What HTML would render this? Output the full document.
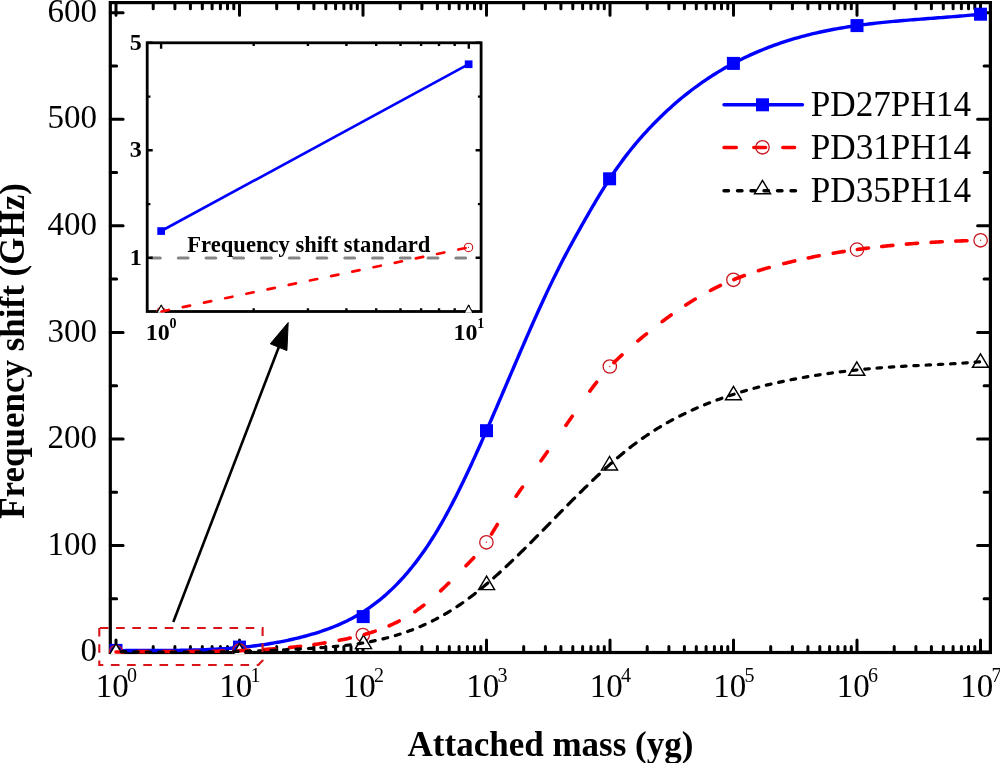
<!DOCTYPE html>
<html><head><meta charset="utf-8"><title>Frequency shift vs attached mass</title><style>
html,body{margin:0;padding:0;background:#fff;}
body{width:1000px;height:763px;overflow:hidden;}
svg{display:block;will-change:transform;}
text{font-family:"Liberation Serif",serif;fill:#000;}
.b{font-weight:bold;}
</style></head><body>
<svg width="1000" height="763" viewBox="0 0 1000 763">
<defs>
<clipPath id="mc"><rect x="108.7" y="1.0" width="883.3" height="653.1"/></clipPath>
<clipPath id="ic"><rect x="145.8" y="41.4" width="336.7" height="271.5"/></clipPath>
</defs>
<rect width="1000" height="763" fill="#fff"/>

<path d="M116.0,652.5 V639.9 M116.0,2.6 V15.2 M153.2,652.5 V646.4 M153.2,2.6 V8.7 M174.9,652.5 V646.4 M174.9,2.6 V8.7 M190.4,652.5 V646.4 M190.4,2.6 V8.7 M202.3,652.5 V646.4 M202.3,2.6 V8.7 M212.1,652.5 V646.4 M212.1,2.6 V8.7 M220.4,652.5 V646.4 M220.4,2.6 V8.7 M227.5,652.5 V646.4 M227.5,2.6 V8.7 M233.8,652.5 V646.4 M233.8,2.6 V8.7 M239.5,652.5 V639.9 M239.5,2.6 V15.2 M276.7,652.5 V646.4 M276.7,2.6 V8.7 M298.4,652.5 V646.4 M298.4,2.6 V8.7 M313.9,652.5 V646.4 M313.9,2.6 V8.7 M325.8,652.5 V646.4 M325.8,2.6 V8.7 M335.6,652.5 V646.4 M335.6,2.6 V8.7 M343.9,652.5 V646.4 M343.9,2.6 V8.7 M351.0,652.5 V646.4 M351.0,2.6 V8.7 M357.3,652.5 V646.4 M357.3,2.6 V8.7 M363.0,652.5 V639.9 M363.0,2.6 V15.2 M400.2,652.5 V646.4 M400.2,2.6 V8.7 M421.9,652.5 V646.4 M421.9,2.6 V8.7 M437.4,652.5 V646.4 M437.4,2.6 V8.7 M449.3,652.5 V646.4 M449.3,2.6 V8.7 M459.1,652.5 V646.4 M459.1,2.6 V8.7 M467.4,652.5 V646.4 M467.4,2.6 V8.7 M474.5,652.5 V646.4 M474.5,2.6 V8.7 M480.8,652.5 V646.4 M480.8,2.6 V8.7 M486.5,652.5 V639.9 M486.5,2.6 V15.2 M523.7,652.5 V646.4 M523.7,2.6 V8.7 M545.4,652.5 V646.4 M545.4,2.6 V8.7 M560.9,652.5 V646.4 M560.9,2.6 V8.7 M572.8,652.5 V646.4 M572.8,2.6 V8.7 M582.6,652.5 V646.4 M582.6,2.6 V8.7 M590.9,652.5 V646.4 M590.9,2.6 V8.7 M598.0,652.5 V646.4 M598.0,2.6 V8.7 M604.3,652.5 V646.4 M604.3,2.6 V8.7 M610.0,652.5 V639.9 M610.0,2.6 V15.2 M647.2,652.5 V646.4 M647.2,2.6 V8.7 M668.9,652.5 V646.4 M668.9,2.6 V8.7 M684.4,652.5 V646.4 M684.4,2.6 V8.7 M696.3,652.5 V646.4 M696.3,2.6 V8.7 M706.1,652.5 V646.4 M706.1,2.6 V8.7 M714.4,652.5 V646.4 M714.4,2.6 V8.7 M721.5,652.5 V646.4 M721.5,2.6 V8.7 M727.8,652.5 V646.4 M727.8,2.6 V8.7 M733.5,652.5 V639.9 M733.5,2.6 V15.2 M770.7,652.5 V646.4 M770.7,2.6 V8.7 M792.4,652.5 V646.4 M792.4,2.6 V8.7 M807.9,652.5 V646.4 M807.9,2.6 V8.7 M819.8,652.5 V646.4 M819.8,2.6 V8.7 M829.6,652.5 V646.4 M829.6,2.6 V8.7 M837.9,652.5 V646.4 M837.9,2.6 V8.7 M845.0,652.5 V646.4 M845.0,2.6 V8.7 M851.3,652.5 V646.4 M851.3,2.6 V8.7 M857.0,652.5 V639.9 M857.0,2.6 V15.2 M894.2,652.5 V646.4 M894.2,2.6 V8.7 M915.9,652.5 V646.4 M915.9,2.6 V8.7 M931.4,652.5 V646.4 M931.4,2.6 V8.7 M943.3,652.5 V646.4 M943.3,2.6 V8.7 M953.1,652.5 V646.4 M953.1,2.6 V8.7 M961.4,652.5 V646.4 M961.4,2.6 V8.7 M968.5,652.5 V646.4 M968.5,2.6 V8.7 M974.8,652.5 V646.4 M974.8,2.6 V8.7 M980.5,652.5 V639.9 M980.5,2.6 V15.2 M110.3,652.1 H123.1 M990.4,652.1 H977.6 M110.3,598.8 H116.6 M990.4,598.8 H984.1 M110.3,545.5 H123.1 M990.4,545.5 H977.6 M110.3,492.2 H116.6 M990.4,492.2 H984.1 M110.3,439.0 H123.1 M990.4,439.0 H977.6 M110.3,385.7 H116.6 M990.4,385.7 H984.1 M110.3,332.4 H123.1 M990.4,332.4 H977.6 M110.3,279.1 H116.6 M990.4,279.1 H984.1 M110.3,225.8 H123.1 M990.4,225.8 H977.6 M110.3,172.5 H116.6 M990.4,172.5 H984.1 M110.3,119.2 H123.1 M990.4,119.2 H977.6 M110.3,66.0 H116.6 M990.4,66.0 H984.1 M110.3,12.7 H123.1 M990.4,12.7 H977.6" stroke="#000" stroke-width="3" fill="none" stroke-linecap="round"/>
<rect x="110.3" y="2.6" width="880.1" height="649.9" fill="none" stroke="#000" stroke-width="3.2"/>
<g clip-path="url(#mc)">
<rect x="109.5" y="643.9" width="13" height="13" fill="#00f"/>
<rect x="233.0" y="640.6" width="13" height="13" fill="#00f"/>
<rect x="356.7" y="610.1" width="13" height="13" fill="#00f"/>
<rect x="480.0" y="424.2" width="13" height="13" fill="#00f"/>
<rect x="603.1" y="172.3" width="13" height="13" fill="#00f"/>
<rect x="726.9" y="56.9" width="13" height="13" fill="#00f"/>
<rect x="850.5" y="19.1" width="13" height="13" fill="#00f"/>
<rect x="974.0" y="7.7" width="13" height="13" fill="#00f"/>
<path d="M116.00,650.66 L118.50,650.64 L121.00,650.61 L123.49,650.59 L125.99,650.57 L128.49,650.56 L130.99,650.54 L133.49,650.53 L135.98,650.52 L138.48,650.52 L140.98,650.51 L143.48,650.51 L145.98,650.50 L148.47,650.50 L150.97,650.49 L153.47,650.49 L155.97,650.48 L158.47,650.47 L160.97,650.46 L163.46,650.45 L165.96,650.44 L168.46,650.42 L170.96,650.40 L173.46,650.38 L175.95,650.36 L178.45,650.33 L180.95,650.29 L183.45,650.25 L185.94,650.21 L188.44,650.16 L190.94,650.11 L193.44,650.05 L195.93,649.98 L198.43,649.91 L200.93,649.83 L203.43,649.75 L205.92,649.65 L208.42,649.55 L210.91,649.44 L213.41,649.32 L215.90,649.20 L218.40,649.06 L220.89,648.92 L223.38,648.76 L225.88,648.60 L228.37,648.42 L230.86,648.23 L233.35,648.04 L235.84,647.83 L238.33,647.61 L240.82,647.37 L243.30,647.13 L245.79,646.87 L248.27,646.60 L250.75,646.32 L253.23,646.02 L255.71,645.71 L258.19,645.39 L260.66,645.05 L263.14,644.70 L265.61,644.33 L268.08,643.95 L270.54,643.55 L273.01,643.13 L275.47,642.70 L277.92,642.26 L280.38,641.80 L282.83,641.32 L285.28,640.82 L287.72,640.31 L290.17,639.78 L292.60,639.23 L295.04,638.67 L297.47,638.09 L299.89,637.49 L302.31,636.87 L304.73,636.24 L307.14,635.58 L309.55,634.91 L311.95,634.22 L314.34,633.51 L316.73,632.78 L319.11,632.02 L321.49,631.25 L323.85,630.45 L326.21,629.62 L328.56,628.77 L330.90,627.89 L333.22,626.98 L335.54,626.04 L337.84,625.08 L340.13,624.08 L342.41,623.06 L344.67,622.00 L346.92,620.91 L349.16,619.79 L351.37,618.64 L353.57,617.46 L355.76,616.24 L357.92,615.00 L360.07,613.72 L362.20,612.41 L364.31,611.08 L366.40,609.71 L368.47,608.31 L370.52,606.88 L372.54,605.42 L374.55,603.94 L376.54,602.42 L378.50,600.88 L380.45,599.31 L382.37,597.72 L384.27,596.10 L386.15,594.45 L388.01,592.78 L389.85,591.09 L391.67,589.38 L393.46,587.64 L395.24,585.88 L396.99,584.10 L398.72,582.30 L400.44,580.48 L402.13,578.65 L403.80,576.79 L405.45,574.92 L407.09,573.03 L408.70,571.12 L410.30,569.20 L411.87,567.26 L413.43,565.31 L414.97,563.34 L416.49,561.36 L418.00,559.37 L419.49,557.36 L420.96,555.34 L422.41,553.31 L423.85,551.27 L425.27,549.21 L426.68,547.15 L428.07,545.07 L429.44,542.99 L430.80,540.89 L432.15,538.79 L433.48,536.67 L434.80,534.55 L436.10,532.42 L437.39,530.28 L438.67,528.13 L439.93,525.98 L441.19,523.82 L442.43,521.65 L443.65,519.47 L444.87,517.29 L446.07,515.10 L447.27,512.91 L448.46,510.71 L449.63,508.51 L450.80,506.30 L451.96,504.09 L453.11,501.87 L454.25,499.65 L455.38,497.42 L456.51,495.19 L457.63,492.96 L458.74,490.72 L459.85,488.48 L460.95,486.24 L462.04,483.99 L463.13,481.74 L464.21,479.49 L465.29,477.24 L466.36,474.98 L467.43,472.72 L468.49,470.46 L469.55,468.20 L470.60,465.93 L471.65,463.67 L472.70,461.40 L473.74,459.13 L474.78,456.85 L475.81,454.58 L476.84,452.30 L477.87,450.03 L478.89,447.75 L479.91,445.47 L480.93,443.19 L481.94,440.90 L482.95,438.62 L483.96,436.33 L484.97,434.05 L485.98,431.76 L486.98,429.47 L487.98,427.18 L488.98,424.89 L489.97,422.60 L490.97,420.31 L491.96,418.02 L492.95,415.73 L493.94,413.43 L494.93,411.14 L495.92,408.85 L496.91,406.55 L497.89,404.26 L498.88,401.96 L499.86,399.66 L500.85,397.37 L501.83,395.07 L502.81,392.77 L503.79,390.48 L504.77,388.18 L505.76,385.88 L506.74,383.58 L507.72,381.29 L508.70,378.99 L509.68,376.69 L510.66,374.40 L511.64,372.10 L512.63,369.80 L513.61,367.50 L514.59,365.21 L515.58,362.91 L516.56,360.62 L517.55,358.32 L518.53,356.03 L519.52,353.73 L520.51,351.44 L521.50,349.14 L522.49,346.85 L523.48,344.56 L524.48,342.27 L525.48,339.98 L526.47,337.69 L527.47,335.40 L528.48,333.11 L529.48,330.82 L530.49,328.54 L531.50,326.25 L532.51,323.97 L533.52,321.68 L534.54,319.40 L535.56,317.12 L536.58,314.84 L537.61,312.56 L538.64,310.29 L539.67,308.01 L540.71,305.74 L541.75,303.47 L542.79,301.20 L543.84,298.93 L544.89,296.67 L545.95,294.40 L547.01,292.14 L548.08,289.88 L549.15,287.63 L550.23,285.37 L551.31,283.12 L552.40,280.87 L553.49,278.63 L554.59,276.38 L555.69,274.14 L556.81,271.91 L557.92,269.67 L559.05,267.44 L560.18,265.22 L561.32,262.99 L562.47,260.78 L563.63,258.56 L564.79,256.35 L565.96,254.14 L567.13,251.94 L568.32,249.74 L569.50,247.54 L570.70,245.34 L571.89,243.15 L573.10,240.96 L574.30,238.77 L575.51,236.59 L576.73,234.41 L577.95,232.23 L579.17,230.05 L580.39,227.87 L581.62,225.69 L582.85,223.52 L584.08,221.34 L585.31,219.17 L586.55,217.00 L587.79,214.83 L589.04,212.67 L590.29,210.51 L591.55,208.35 L592.81,206.19 L594.07,204.04 L595.34,201.89 L596.62,199.74 L597.91,197.60 L599.20,195.46 L600.50,193.33 L601.81,191.20 L603.12,189.08 L604.45,186.96 L605.78,184.85 L607.13,182.74 L608.48,180.64 L609.85,178.55 L611.23,176.47 L612.62,174.39 L614.03,172.33 L615.44,170.27 L616.87,168.22 L618.31,166.18 L619.77,164.15 L621.24,162.13 L622.72,160.12 L624.22,158.12 L625.73,156.13 L627.26,154.15 L628.79,152.19 L630.35,150.23 L631.91,148.28 L633.49,146.35 L635.09,144.42 L636.69,142.51 L638.31,140.61 L639.95,138.72 L641.60,136.84 L643.26,134.98 L644.93,133.12 L646.62,131.28 L648.31,129.45 L650.03,127.63 L651.75,125.82 L653.48,124.02 L655.23,122.23 L656.99,120.46 L658.76,118.70 L660.54,116.95 L662.33,115.21 L664.14,113.48 L665.96,111.77 L667.79,110.07 L669.63,108.38 L671.49,106.71 L673.35,105.05 L675.23,103.40 L677.13,101.77 L679.03,100.16 L680.95,98.55 L682.87,96.96 L684.81,95.39 L686.77,93.83 L688.73,92.29 L690.71,90.76 L692.70,89.25 L694.70,87.76 L696.71,86.28 L698.74,84.82 L700.77,83.37 L702.82,81.94 L704.88,80.53 L706.95,79.13 L709.04,77.75 L711.13,76.39 L713.24,75.05 L715.35,73.72 L717.48,72.41 L719.62,71.12 L721.77,69.84 L723.93,68.59 L726.10,67.35 L728.28,66.13 L730.46,64.92 L732.66,63.74 L734.87,62.57 L737.09,61.42 L739.32,60.29 L741.55,59.17 L743.80,58.08 L746.05,57.00 L748.31,55.94 L750.58,54.89 L752.86,53.87 L755.15,52.86 L757.44,51.87 L759.74,50.90 L762.05,49.95 L764.37,49.01 L766.69,48.09 L769.02,47.20 L771.36,46.31 L773.70,45.45 L776.05,44.60 L778.41,43.78 L780.77,42.96 L783.14,42.17 L785.52,41.40 L787.90,40.64 L790.28,39.90 L792.67,39.17 L795.07,38.46 L797.47,37.77 L799.87,37.10 L802.28,36.44 L804.70,35.80 L807.12,35.17 L809.54,34.56 L811.97,33.97 L814.40,33.39 L816.83,32.83 L819.27,32.28 L821.71,31.75 L824.15,31.23 L826.60,30.72 L829.05,30.23 L831.50,29.75 L833.95,29.29 L836.41,28.84 L838.87,28.40 L841.33,27.98 L843.80,27.56 L846.26,27.16 L848.73,26.77 L851.20,26.40 L853.67,26.03 L856.14,25.68 L858.62,25.33 L861.09,25.00 L863.57,24.67 L866.05,24.35 L868.53,24.05 L871.01,23.75 L873.49,23.46 L875.97,23.18 L878.45,22.91 L880.94,22.64 L883.42,22.38 L885.91,22.13 L888.39,21.89 L890.88,21.65 L893.37,21.42 L895.85,21.19 L898.34,20.97 L900.83,20.75 L903.32,20.54 L905.81,20.33 L908.30,20.12 L910.79,19.92 L913.28,19.72 L915.77,19.53 L918.26,19.33 L920.75,19.14 L923.24,18.95 L925.73,18.76 L928.22,18.57 L930.71,18.39 L933.21,18.20 L935.70,18.01 L938.19,17.82 L940.68,17.63 L943.17,17.44 L945.66,17.25 L948.15,17.06 L950.64,16.86 L953.13,16.66 L955.62,16.46 L958.11,16.26 L960.60,16.05 L963.09,15.84 L965.58,15.62 L968.07,15.40 L970.55,15.17 L973.04,14.94 L975.53,14.70 L978.01,14.45 L980.50,14.20" fill="none" stroke="#00f" stroke-width="3.4" stroke-linejoin="round"/>
<circle cx="116.0" cy="652.0" r="6.7" fill="none" stroke="#c8161f" stroke-width="1.3"/><circle cx="116.0" cy="652.0" r="0.7" fill="#c03030"/>
<circle cx="239.5" cy="650.7" r="6.7" fill="none" stroke="#c8161f" stroke-width="1.3"/><circle cx="239.5" cy="650.7" r="0.7" fill="#c03030"/>
<circle cx="362.8" cy="635.0" r="6.7" fill="none" stroke="#c8161f" stroke-width="1.3"/><circle cx="362.8" cy="635.0" r="0.7" fill="#c03030"/>
<circle cx="486.4" cy="542.3" r="6.7" fill="none" stroke="#c8161f" stroke-width="1.3"/><circle cx="486.4" cy="542.3" r="0.7" fill="#c03030"/>
<circle cx="609.8" cy="366.5" r="6.7" fill="none" stroke="#c8161f" stroke-width="1.3"/><circle cx="609.8" cy="366.5" r="0.7" fill="#c03030"/>
<circle cx="733.4" cy="279.8" r="6.7" fill="none" stroke="#c8161f" stroke-width="1.3"/><circle cx="733.4" cy="279.8" r="0.7" fill="#c03030"/>
<circle cx="857.0" cy="249.6" r="6.7" fill="none" stroke="#c8161f" stroke-width="1.3"/><circle cx="857.0" cy="249.6" r="0.7" fill="#c03030"/>
<circle cx="980.6" cy="240.3" r="6.7" fill="none" stroke="#c8161f" stroke-width="1.3"/><circle cx="980.6" cy="240.3" r="0.7" fill="#c03030"/>
<polygon points="116.00,643.70 108.00,657.10 124.00,657.10" fill="#fff" stroke="#000" stroke-width="1.45" stroke-linejoin="miter"/>
<polygon points="239.50,643.70 231.50,657.10 247.50,657.10" fill="#fff" stroke="#000" stroke-width="1.45" stroke-linejoin="miter"/>
<polygon points="363.50,635.20 355.50,648.60 371.50,648.60" fill="#fff" stroke="#000" stroke-width="1.45" stroke-linejoin="miter"/>
<polygon points="486.60,576.20 478.60,589.60 494.60,589.60" fill="#fff" stroke="#000" stroke-width="1.45" stroke-linejoin="miter"/>
<polygon points="609.50,456.50 601.50,469.90 617.50,469.90" fill="#fff" stroke="#000" stroke-width="1.45" stroke-linejoin="miter"/>
<polygon points="733.50,386.40 725.50,399.80 741.50,399.80" fill="#fff" stroke="#000" stroke-width="1.45" stroke-linejoin="miter"/>
<polygon points="856.80,361.90 848.80,375.30 864.80,375.30" fill="#fff" stroke="#000" stroke-width="1.45" stroke-linejoin="miter"/>
<polygon points="980.50,353.90 972.50,367.30 988.50,367.30" fill="#fff" stroke="#000" stroke-width="1.45" stroke-linejoin="miter"/>
<path d="M116.00,652.00 L117.48,651.97 L118.96,651.94 L120.44,651.91 L121.92,651.88 L123.40,651.85 M137.40,651.66 L138.80,651.65 L140.20,651.63 L141.60,651.62 L143.00,651.61 L144.40,651.60 L145.80,651.59 L147.20,651.58 L148.60,651.57 M162.90,651.52 L164.30,651.52 L165.70,651.51 L167.10,651.51 L168.50,651.51 L169.90,651.50 L171.30,651.50 L172.70,651.50 L174.10,651.50 M187.40,651.46 L188.80,651.46 L190.20,651.45 L191.60,651.44 L193.00,651.44 L194.40,651.43 L195.80,651.42 L197.20,651.41 L198.60,651.40 M212.80,651.26 L214.20,651.24 L215.60,651.22 L217.00,651.20 L218.40,651.18 L219.80,651.15 L221.20,651.12 L222.60,651.10 L224.00,651.07 M238.20,650.69 L239.60,650.65 L241.00,650.60 L242.40,650.55 L243.80,650.50 L245.20,650.44 L246.60,650.39 L248.00,650.33 L249.40,650.27 M263.71,649.52 L265.11,649.44 L266.51,649.35 L267.90,649.26 L269.30,649.17 L270.70,649.07 L272.09,648.97 L273.49,648.87 L274.89,648.76 M289.43,647.51 L290.82,647.37 L292.22,647.23 L293.61,647.08 L295.00,646.94 L296.39,646.79 L297.78,646.63 L299.17,646.47 L300.57,646.31 M313.96,644.58 L315.35,644.38 L316.73,644.18 L318.12,643.98 L319.50,643.77 L320.88,643.55 L322.27,643.34 L323.65,643.11 L325.03,642.89 M339.21,640.34 L340.58,640.06 L341.96,639.79 L343.33,639.51 L344.70,639.22 L346.07,638.94 L347.44,638.64 L348.81,638.35 L350.17,638.04 M364.53,634.46 L365.87,634.07 L367.22,633.68 L368.56,633.28 L369.90,632.88 L371.24,632.46 L372.57,632.04 L373.90,631.60 L375.23,631.16 M389.10,625.81 L390.39,625.25 L391.66,624.68 L392.93,624.09 L394.20,623.49 L395.46,622.88 L396.72,622.27 L397.97,621.64 L399.21,621.00 M414.82,611.70 L415.97,610.91 L417.12,610.11 L418.26,609.30 L419.40,608.48 L420.53,607.65 L421.65,606.82 L422.77,605.97 L423.87,605.12 M440.61,590.81 L441.64,589.86 L442.66,588.90 L443.68,587.94 L444.70,586.98 L445.71,586.02 L446.73,585.05 L447.73,584.08 L448.74,583.10 M466.00,565.76 L466.97,564.76 L467.95,563.76 L468.93,562.75 L469.90,561.75 L470.87,560.74 L471.85,559.74 L472.82,558.73 L473.78,557.71 M491.51,534.06 L492.23,532.86 L492.95,531.66 L493.68,530.46 L494.40,529.27 L495.13,528.07 L495.86,526.88 L496.60,525.69 L497.33,524.50 M516.10,496.22 L516.90,495.07 L517.70,493.92 L518.50,492.77 L519.30,491.62 L520.10,490.47 L520.90,489.33 L521.71,488.18 L522.51,487.03 M540.97,460.83 L541.78,459.69 L542.58,458.54 L543.39,457.40 L544.20,456.26 L545.01,455.11 L545.82,453.97 L546.62,452.83 L547.43,451.68 M565.91,425.35 L566.71,424.20 L567.51,423.05 L568.30,421.90 L569.10,420.75 L569.90,419.60 L570.69,418.45 L571.49,417.30 L572.28,416.15 M589.86,391.17 L590.69,390.04 L591.52,388.91 L592.36,387.79 L593.20,386.67 L594.04,385.56 L594.89,384.44 L595.75,383.33 L596.60,382.23 M613.85,362.61 L614.86,361.63 L615.87,360.66 L616.88,359.70 L617.90,358.74 L618.92,357.78 L619.95,356.83 L620.97,355.88 L622.00,354.93 M637.90,340.95 L638.97,340.05 L640.05,339.15 L641.12,338.25 L642.20,337.36 L643.28,336.46 L644.36,335.57 L645.44,334.69 L646.53,333.80 M662.11,321.60 L663.23,320.76 L664.35,319.93 L665.47,319.09 L666.60,318.26 L667.73,317.44 L668.86,316.61 L670.00,315.79 L671.14,314.98 M685.78,305.00 L686.95,304.24 L688.13,303.49 L689.31,302.74 L690.50,301.99 L691.69,301.25 L692.88,300.52 L694.07,299.78 L695.27,299.06 M710.42,290.50 L711.66,289.85 L712.90,289.21 L714.15,288.57 L715.40,287.94 L716.65,287.32 L717.91,286.70 L719.17,286.10 L720.43,285.49 M733.90,279.55 L735.20,279.02 L736.49,278.50 L737.80,277.99 L739.10,277.48 L740.41,276.97 L741.72,276.48 L743.03,275.99 L744.34,275.50 M758.45,270.69 L759.78,270.27 L761.12,269.86 L762.46,269.45 L763.80,269.05 L765.14,268.65 L766.48,268.25 L767.83,267.86 L769.18,267.47 M783.86,263.56 L785.22,263.22 L786.58,262.89 L787.94,262.55 L789.30,262.22 L790.66,261.90 L792.02,261.58 L793.39,261.26 L794.75,260.94 M808.21,257.98 L809.58,257.69 L810.96,257.41 L812.33,257.13 L813.70,256.85 L815.07,256.58 L816.45,256.31 L817.82,256.04 L819.20,255.78 M833.18,253.24 L834.56,253.00 L835.94,252.77 L837.32,252.54 L838.70,252.31 L840.08,252.09 L841.46,251.87 L842.85,251.65 L844.23,251.43 M857.35,249.50 L858.74,249.31 L860.12,249.12 L861.51,248.94 L862.90,248.75 L864.29,248.57 L865.68,248.39 L867.07,248.22 L868.45,248.04 M881.73,246.49 L883.12,246.34 L884.52,246.19 L885.91,246.05 L887.30,245.90 L888.69,245.76 L890.09,245.62 L891.48,245.48 L892.87,245.35 M906.42,244.14 L907.81,244.02 L909.21,243.91 L910.60,243.80 L912.00,243.69 L913.40,243.58 L914.79,243.48 L916.19,243.37 L917.58,243.27 M931.11,242.37 L932.51,242.29 L933.90,242.21 L935.30,242.13 L936.70,242.05 L938.10,241.97 L939.50,241.90 L940.89,241.82 L942.29,241.75 M955.80,241.12 L957.20,241.06 L958.60,241.00 L960.00,240.95 L961.40,240.89 L962.80,240.84 L964.20,240.79 L965.60,240.74 L967.00,240.69" fill="none" stroke="#f00" stroke-width="3.6" stroke-linecap="round" stroke-linejoin="round"/>
<path d="M121.20,651.61 L122.69,651.63 L124.18,651.66 L125.67,651.69 M133.70,651.81 L135.19,651.84 L136.68,651.86 L138.18,651.88 M146.21,651.98 L147.70,651.99 L149.19,652.01 L150.68,652.02 M158.71,652.09 L160.20,652.10 L161.69,652.11 L163.18,652.12 M171.21,652.15 L172.70,652.15 L174.19,652.16 L175.68,652.16 M183.70,652.16 L185.19,652.15 L186.68,652.15 L188.17,652.15 M196.19,652.10 L197.68,652.09 L199.17,652.08 L200.66,652.07 M208.67,651.99 L210.16,651.97 L211.65,651.95 L213.14,651.93 M221.15,651.81 L222.64,651.79 L224.13,651.76 L225.62,651.73 M233.63,651.56 L235.12,651.53 L236.61,651.49 L238.10,651.46 M246.10,651.25 L247.59,651.20 L249.08,651.16 L250.58,651.11 M258.57,650.85 L260.06,650.80 L261.55,650.75 L263.05,650.69 M271.03,650.38 L272.53,650.32 L274.02,650.26 L275.51,650.20 M283.49,649.83 L284.99,649.76 L286.48,649.69 L287.97,649.61 M295.95,649.20 L297.44,649.12 L298.94,649.03 L300.43,648.95 M308.40,648.48 L309.90,648.38 L311.39,648.29 L312.89,648.19 M320.85,647.65 L321.97,647.57 L323.10,647.49 L324.22,647.41 L325.34,647.32 M333.29,646.65 L334.42,646.55 L335.54,646.45 L336.67,646.34 L337.80,646.23 M345.72,645.38 L346.86,645.24 L347.99,645.11 L349.12,644.97 L350.25,644.82 M358.14,643.73 L359.29,643.55 L360.43,643.37 L361.57,643.19 L362.71,643.00 M370.55,641.60 L371.71,641.37 L372.87,641.14 L374.02,640.91 L375.18,640.66 M382.94,638.91 L384.12,638.62 L385.30,638.32 L386.48,638.02 L387.66,637.71 M395.32,635.57 L396.53,635.20 L397.74,634.83 L398.94,634.46 L400.14,634.07 M407.68,631.51 L408.92,631.06 L410.17,630.60 L411.41,630.13 L412.64,629.66 M420.01,626.67 L421.30,626.11 L422.59,625.55 L423.88,624.98 L425.16,624.40 M432.33,620.97 L433.40,620.43 L434.48,619.88 L435.55,619.33 L436.62,618.77 L437.68,618.20 M444.63,614.34 L445.75,613.69 L446.87,613.02 L447.99,612.36 L449.11,611.68 L450.22,611.00 M456.91,606.72 L458.09,605.93 L459.26,605.14 L460.43,604.34 L461.60,603.53 L462.76,602.72 M469.18,598.05 L470.20,597.27 L471.22,596.50 L472.24,595.72 L473.26,594.93 L474.27,594.15 L475.28,593.35 M481.46,588.37 L482.52,587.50 L483.58,586.62 L484.63,585.73 L485.69,584.84 L486.73,583.95 L487.78,583.06 M493.76,577.84 L494.85,576.87 L495.94,575.90 L497.02,574.93 L498.10,573.95 L499.18,572.97 L500.26,571.99 M506.07,566.60 L507.03,565.71 L507.98,564.81 L508.93,563.91 L509.88,563.01 L510.82,562.11 L511.77,561.21 L512.71,560.30 M518.40,554.79 L519.37,553.85 L520.33,552.90 L521.30,551.96 L522.26,551.01 L523.22,550.06 L524.18,549.11 L525.14,548.16 M530.75,542.57 L531.72,541.59 L532.69,540.61 L533.67,539.63 L534.64,538.65 L535.61,537.67 L536.58,536.69 L537.55,535.71 M543.10,530.07 L544.08,529.07 L545.06,528.08 L546.03,527.08 L547.01,526.09 L547.99,525.09 L548.96,524.09 L549.94,523.10 M555.47,517.45 L556.45,516.45 L557.42,515.46 L558.40,514.46 L559.38,513.47 L560.35,512.47 L561.33,511.48 L562.31,510.49 M567.86,504.86 L568.82,503.88 L569.79,502.90 L570.77,501.92 L571.74,500.95 L572.71,499.97 L573.68,498.99 L574.65,498.02 M580.25,492.45 L581.21,491.50 L582.17,490.55 L583.13,489.61 L584.09,488.67 L585.05,487.72 L586.02,486.78 L586.98,485.84 M592.66,480.37 L593.60,479.47 L594.55,478.57 L595.49,477.67 L596.44,476.78 L597.38,475.89 L598.33,475.00 L599.28,474.11 M605.08,468.76 L606.16,467.79 L607.23,466.82 L608.31,465.85 L609.40,464.88 L610.48,463.92 L611.57,462.96 M617.52,457.80 L618.57,456.91 L619.61,456.03 L620.66,455.15 L621.71,454.28 L622.77,453.41 L623.82,452.54 M629.98,447.62 L630.98,446.84 L631.99,446.06 L633.01,445.29 L634.02,444.52 L635.04,443.75 L636.06,442.99 M642.44,438.38 L643.61,437.57 L644.77,436.76 L645.94,435.96 L647.12,435.16 L648.30,434.37 M654.90,430.09 L656.02,429.39 L657.15,428.69 L658.27,428.00 L659.40,427.31 L660.54,426.63 M667.34,422.67 L668.42,422.06 L669.51,421.46 L670.60,420.86 L671.69,420.26 L672.79,419.67 M679.76,416.04 L681.08,415.38 L682.40,414.73 L683.72,414.08 L685.05,413.44 M692.17,410.12 L693.45,409.54 L694.74,408.97 L696.02,408.40 L697.31,407.84 M704.56,404.81 L705.81,404.30 L707.07,403.80 L708.33,403.30 L709.59,402.81 M716.93,400.04 L718.17,399.59 L719.40,399.14 L720.63,398.70 L721.87,398.27 M729.30,395.73 L730.51,395.33 L731.72,394.93 L732.94,394.54 L734.15,394.15 M741.65,391.83 L742.84,391.47 L744.04,391.12 L745.24,390.77 L746.44,390.42 M753.99,388.32 L755.17,388.00 L756.36,387.69 L757.54,387.38 L758.72,387.07 M766.33,385.16 L767.50,384.88 L768.67,384.60 L769.84,384.32 L771.01,384.04 M778.65,382.32 L779.81,382.07 L780.97,381.82 L782.13,381.57 L783.30,381.32 M790.97,379.77 L792.12,379.54 L793.28,379.32 L794.43,379.10 L795.58,378.88 M803.28,377.48 L804.43,377.28 L805.57,377.08 L806.72,376.88 L807.87,376.68 M815.59,375.42 L816.73,375.23 L817.87,375.06 L819.01,374.88 L820.15,374.71 M827.89,373.57 L829.02,373.41 L830.16,373.25 L831.29,373.09 L832.43,372.94 M840.18,371.92 L841.31,371.78 L842.44,371.64 L843.58,371.50 L844.71,371.37 M852.47,370.47 L853.60,370.35 L854.73,370.23 L855.85,370.11 L856.98,369.99 M864.75,369.20 L865.88,369.10 L867.00,368.99 L868.13,368.89 L869.26,368.78 M877.03,368.11 L878.15,368.02 L879.28,367.93 L880.40,367.84 L881.52,367.75 M889.30,367.18 L890.80,367.07 L892.30,366.97 L893.79,366.87 M901.57,366.39 L903.07,366.30 L904.56,366.22 L906.06,366.13 M913.84,365.71 L915.33,365.64 L916.82,365.56 L918.32,365.48 M926.09,365.09 L927.59,365.02 L929.08,364.95 L930.57,364.87 M938.35,364.48 L939.84,364.41 L941.34,364.33 L942.83,364.25 M950.60,363.83 L952.09,363.74 L953.59,363.66 L955.08,363.57 M962.84,363.08 L964.34,362.98 L965.83,362.88 L967.33,362.78 M975.08,362.20 L976.20,362.11 L977.32,362.02 L978.44,361.92 L979.57,361.83" fill="none" stroke="#000" stroke-width="3.2" stroke-linecap="round" stroke-linejoin="round"/>
</g>
<text x="97.1" y="661.2" font-size="33" text-anchor="end">0</text>
<text x="97.1" y="554.6" font-size="33" text-anchor="end">100</text>
<text x="97.1" y="448.1" font-size="33" text-anchor="end">200</text>
<text x="97.1" y="341.5" font-size="33" text-anchor="end">300</text>
<text x="97.1" y="234.9" font-size="33" text-anchor="end">400</text>
<text x="97.1" y="128.3" font-size="33" text-anchor="end">500</text>
<text x="97.1" y="21.8" font-size="33" text-anchor="end">600</text>
<text x="95.7" y="697.3" font-size="33">10</text><text x="127.0" y="681.8" font-size="20">0</text>
<text x="219.2" y="697.3" font-size="33">10</text><text x="250.5" y="681.8" font-size="20">1</text>
<text x="342.7" y="697.3" font-size="33">10</text><text x="374.0" y="681.8" font-size="20">2</text>
<text x="466.2" y="697.3" font-size="33">10</text><text x="497.5" y="681.8" font-size="20">3</text>
<text x="589.7" y="697.3" font-size="33">10</text><text x="621.0" y="681.8" font-size="20">4</text>
<text x="713.2" y="697.3" font-size="33">10</text><text x="744.5" y="681.8" font-size="20">5</text>
<text x="836.7" y="697.3" font-size="33">10</text><text x="868.0" y="681.8" font-size="20">6</text>
<text x="960.2" y="697.3" font-size="33">10</text><text x="991.5" y="681.8" font-size="20">7</text>
<text class="b" x="550.5" y="755.5" font-size="35" text-anchor="middle">Attached mass (yg)</text>
<text class="b" transform="translate(24,351) rotate(-90)" x="0" y="0" font-size="35" text-anchor="middle">Frequency shift (GHz)</text>
<line x1="724" y1="104.8" x2="802.5" y2="104.8" stroke="#00f" stroke-width="3.4" stroke-linecap="round"/>
<rect x="756" y="98.3" width="13" height="13" fill="#00f"/>
<text x="810.7" y="115.6" font-size="35.2">PD27PH14</text>
<path d="M724,147.4 H736.3 M753.8,147.4 H765.6 M782.8,147.4 H794.6" stroke="#f00" stroke-width="3.5" stroke-linecap="round"/>
<circle cx="762.5" cy="147.3" r="6.7" fill="none" stroke="#c8161f" stroke-width="1.3"/>
<text x="810.7" y="158.7" font-size="35.2">PD31PH14</text>
<path d="M724,190.7 H728.5 M737.5,190.7 H742 M751,190.7 H755 M764,190.7 H768.5 M777.5,190.7 H782 M791,190.7 H795.5" stroke="#000" stroke-width="3.4" stroke-linecap="round"/>
<polygon points="762.50,180.30 754.50,193.70 770.50,193.70" fill="none" stroke="#000" stroke-width="1.45"/>
<text x="810.7" y="201.7" font-size="35.2">PD35PH14</text>
<path d="M99.3,628 V665 H258.3 L262.6,660.5 V628 Z" fill="none" stroke="#d81418" stroke-width="2.1" stroke-dasharray="8.6 7.6"/>
<line x1="173.3" y1="622" x2="280" y2="344" stroke="#000" stroke-width="2.6"/>
<polygon points="288.2,322.5 270.3,343.8 286.9,350.6" fill="#000" stroke="#000" stroke-width="1" stroke-linejoin="round"/>
<rect x="147.2" y="42.8" width="333.9" height="268.7" fill="#fff"/>
<line x1="150.55" y1="258" x2="472" y2="258" stroke="#858585" stroke-width="3.1" stroke-dasharray="9.7 18.06" stroke-linecap="round"/>
<text class="b" x="187.3" y="252" font-size="22.6">Frequency shift standard</text>
<path d="M161.1,311.5 V305.5 M161.1,42.8 V48.8 M468.8,311.5 V305.5 M468.8,42.8 V48.8 M253.7,311.5 V308.3 M253.7,42.8 V46.0 M307.9,311.5 V308.3 M307.9,42.8 V46.0 M346.4,311.5 V308.3 M346.4,42.8 V46.0 M376.2,311.5 V308.3 M376.2,42.8 V46.0 M400.5,311.5 V308.3 M400.5,42.8 V46.0 M421.1,311.5 V308.3 M421.1,42.8 V46.0 M439.0,311.5 V308.3 M439.0,42.8 V46.0 M454.7,311.5 V308.3 M454.7,42.8 V46.0 M147.2,257.8 H152.7 M481.1,257.8 H475.6 M147.2,204.1 H150.4 M481.1,204.1 H477.9 M147.2,150.3 H152.7 M481.1,150.3 H475.6 M147.2,96.6 H150.4 M481.1,96.6 H477.9 M147.2,42.8 H152.7 M481.1,42.8 H475.6" stroke="#000" stroke-width="2.4" fill="none"/>
<rect x="147.2" y="42.8" width="333.9" height="268.7" fill="none" stroke="#000" stroke-width="2.8"/>
<g clip-path="url(#ic)">
<rect x="157.3" y="227.2" width="7.7" height="7.7" fill="#00f"/>
<rect x="464.8" y="60.4" width="7.7" height="7.7" fill="#00f"/>
<circle cx="161.1" cy="311.6" r="4.2" fill="none" stroke="#c8161f" stroke-width="1.1"/><circle cx="161.1" cy="311.6" r="0.6" fill="#c03030"/>
<circle cx="468.5" cy="247.4" r="4.2" fill="none" stroke="#c8161f" stroke-width="1.1"/><circle cx="468.5" cy="247.4" r="0.6" fill="#c03030"/>
<polygon points="161.2,305.3 156.6,313.4 165.8,313.4" fill="#fff" stroke="#000" stroke-width="1.1"/>
<polygon points="468.6,305.3 464.0,313.4 473.2,313.4" fill="#fff" stroke="#000" stroke-width="1.1"/>
<line x1="161.1" y1="311.6" x2="468.5" y2="247.4" stroke="#f00" stroke-width="2.7" stroke-dasharray="7.4 14.25" stroke-dashoffset="21.16" stroke-linecap="round"/>
<line x1="161.2" y1="231.0" x2="468.7" y2="64.2" stroke="#00f" stroke-width="2.6"/>
</g>
<text class="b" x="141.8" y="49.5" font-size="24" text-anchor="end">5</text>
<text class="b" x="141.8" y="157.0" font-size="24" text-anchor="end">3</text>
<text class="b" x="141.8" y="264.5" font-size="24" text-anchor="end">1</text>
<text class="b" x="145.8" y="339.5" font-size="24">10</text><text class="b" x="169.5" y="328.4" font-size="14">0</text>
<text class="b" x="453.5" y="339.5" font-size="24">10</text><text class="b" x="477.2" y="328.4" font-size="14">1</text>
</svg></body></html>
